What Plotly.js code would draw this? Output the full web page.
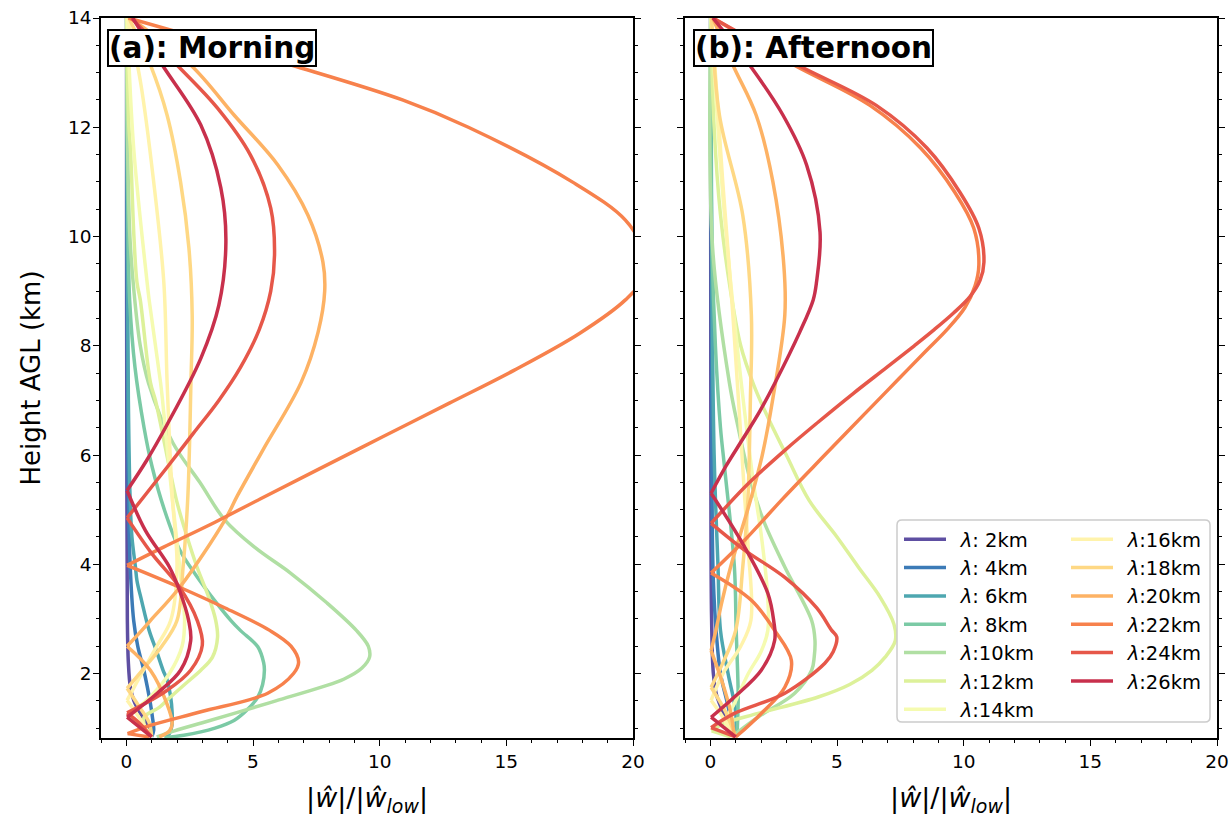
<!DOCTYPE html>
<html>
<head>
<meta charset="utf-8">
<script src="https://cdn.plot.ly/plotly-3.0.1.min.js"></script>
<style>
  html, body { margin: 0; padding: 0; background: #fff; }
  #chart { width: 1232px; height: 826px; }
</style>
</head>
<body>
<div id="chart"></div>
<script>
// Horizontal wavelengths (km) and their line colours (Spectral, reversed)
const wavelengths = [2, 4, 6, 8, 10, 12, 14, 16, 18, 20, 22, 24, 26];
const lineColors = ['#5e4fa2', '#3c7bb7', '#4ea7b0', '#7bcaa5', '#b0dfa3', '#ddf19a', '#f5fbb0',
                    '#fff3ab', '#fed884', '#fdb264', '#f7814c', '#e65749', '#c8304c'];
const legendLabels = ['λ: 2km', 'λ: 4km', 'λ: 6km', 'λ: 8km', 'λ:10km', 'λ:12km', 'λ:14km',
                      'λ:16km', 'λ:18km', 'λ:20km', 'λ:22km', 'λ:24km', 'λ:26km'];

// ---- Morning profiles: height AGL (km) and |w|/|w_low| ----
const mZ2  = [14, 10, 6, 3, 2.2, 1.75, 1.5, 1.27, 1.05, 0.84];
const mW2  = [0.01, 0.01, 0.02, 0.04, 0.08, 0.16, 0.3, 0.56, 0.85, 1.0];
const mZ4  = [14, 10, 6, 4, 2.97, 2.5, 2.06, 1.75, 1.45, 1.2, 0.96, 0.84];
const mW4  = [0.02, 0.03, 0.06, 0.15, 0.29, 0.45, 0.69, 0.83, 0.95, 1.03, 1.08, 1.0];
const mZ6  = [14, 10, 7, 5.2, 4.5, 3.95, 3.7, 3.34, 2.79, 2.4, 2.06, 1.88, 1.6, 1.27, 1.05, 0.9, 0.84];
const mW6  = [0.02, 0.04, 0.08, 0.15, 0.22, 0.36, 0.42, 0.6, 0.9, 1.2, 1.45, 1.61, 1.74, 1.81, 1.8, 1.7, 1.55];
const mZ8  = [14, 12, 10, 8.84, 7.61, 6.5, 5.78, 5, 4.26, 3.8, 3.34, 2.97, 2.79, 2.49, 2.2, 2.06, 1.8, 1.57, 1.35, 1.14, 1.0, 0.87, 0.83];
const mW8  = [0.01, 0.03, 0.07, 0.13, 0.34, 0.7, 1.02, 1.5, 2.11, 2.75, 3.48, 4.13, 4.5, 5.19, 5.42, 5.45, 5.38, 5.19, 4.8, 4.25, 3.5, 2.27, 1.5];
const mZ10 = [14, 12, 10, 9, 8, 7.31, 6.22, 5.5, 4.81, 4.3, 3.84, 3.3, 2.79, 2.5, 2.3, 2.1, 1.9, 1.75, 1.5, 1.27, 1.1, 0.95, 0.84];
const mW10 = [0.01, 0.04, 0.14, 0.3, 0.55, 0.88, 1.84, 2.9, 3.89, 5.1, 6.48, 7.9, 9.08, 9.55, 9.6, 9.3, 8.6, 7.7, 5.9, 4.26, 3.0, 1.9, 1.2];
const mZ12 = [14, 12, 11.62, 10, 9.16, 8.84, 7.33, 7.0, 6, 5.17, 4.5, 3.95, 3.4, 2.97, 2.66, 2.3, 2.06, 1.8, 1.51, 1.38, 1.2, 1.0, 0.84];
const mW12 = [0.01, 0.1, 0.16, 0.3, 0.42, 0.55, 0.95, 1.15, 1.6, 1.98, 2.4, 2.79, 3.25, 3.53, 3.6, 3.4, 2.94, 2.3, 1.6, 1.3, 0.7, 0.75, 1.0];
const mZ14 = [14, 11.62, 9.16, 8.84, 7.33, 7.0, 5.26, 4.2, 3.5, 2.97, 2.5, 2.0, 1.6, 1.35, 1.2, 1.0, 0.84];
const mW14 = [0.03, 0.29, 0.82, 0.9, 1.35, 1.43, 1.8, 2.05, 2.2, 2.3, 2.2, 1.7, 1.0, 0.4, 0.05, 0.6, 1.0];
const mZ16 = [14, 12.83, 11, 9.16, 7.33, 5.26, 3.95, 2.97, 2.5, 2.0, 1.51, 1.2, 0.84];
const mW16 = [0.05, 0.56, 1.08, 1.48, 1.61, 1.81, 2.0, 1.75, 1.2, 0.6, 0.03, 0.5, 1.0];
const mZ18 = [14, 13.14, 12.22, 11.0, 9.79, 8.56, 7.33, 5.26, 3.95, 2.97, 2.5, 2.1, 1.73, 1.4, 1.1, 0.84];
const mW18 = [0.1, 0.95, 1.61, 2.14, 2.47, 2.6, 2.55, 2.43, 2.24, 2.0, 1.4, 0.7, 0.03, 0.5, 0.9, 1.0];
const mZ20 = [14, 13.14, 12.22, 11.31, 10.39, 9.53, 9.0, 8.25, 7.33, 6.09, 5.26, 4.81, 3.58, 2.97, 2.79, 2.5, 2.06, 1.45, 1.09, 0.95, 0.84];
const mW20 = [0.15, 2.54, 4.26, 5.98, 7.17, 7.76, 7.83, 7.57, 6.9, 5.39, 4.39, 3.89, 2.11, 0.95, 0.61, 0.03, 0.95, 1.6, 1.81, 1.7, 1.3];
const mZ22 = [14, 13.14, 12.5, 12, 11, 10.3, 9.75, 9.3, 8.84, 8.23, 7.55, 6.95, 6.33, 5.72, 5.2, 4.77, 4.31, 3.98, 3.58, 3.2, 2.79, 2.5, 2.21, 2.0, 1.64, 1.3, 1.05, 0.9, 0.84];
const mW22 = [0.08, 6.5, 10.9, 13.5, 17.6, 19.7, 20.4, 20.5, 19.7, 17.9, 15.3, 12.75, 10.1, 7.5, 5.3, 3.5, 1.45, 0.03, 2.1, 3.9, 5.66, 6.5, 6.8, 6.6, 5.58, 2.94, 0.95, 0.05, 0.9];
const mZ24 = [14, 13.14, 12.35, 11.49, 10.52, 9.66, 9.0, 8.3, 7.6, 7.0, 6.4, 5.8, 5.3, 4.85, 4.2, 3.58, 2.97, 2.52, 2.06, 1.69, 1.28, 1.1, 0.84];
const mW24 = [0.2, 2.0, 3.6, 4.9, 5.7, 5.85, 5.7, 5.25, 4.5, 3.65, 2.65, 1.65, 0.8, 0.03, 1.0, 2.1, 2.8, 3.0, 2.54, 1.6, 0.03, 0.5, 1.0];
const mZ26 = [14, 13.14, 12.04, 10.89, 9.9, 8.74, 7.77, 6.55, 5.9, 5.35, 4.62, 3.95, 3.52, 2.97, 2.6, 2.06, 1.64, 1.2, 0.84];
const mW26 = [0.25, 1.42, 2.94, 3.73, 3.93, 3.65, 2.94, 1.6, 0.8, 0.03, 0.75, 1.7, 2.1, 2.46, 2.54, 2.14, 1.22, 0.03, 1.0];

// ---- Afternoon profiles ----
const aZ2  = [14, 6, 3, 2, 1.6, 1.3, 1.05, 0.84];
const aW2  = [0.01, 0.02, 0.05, 0.12, 0.25, 0.5, 0.8, 1.0];
const aZ4  = [14, 8, 4, 2.97, 2.0, 1.5, 1.0, 0.84];
const aW4  = [0.02, 0.05, 0.1, 0.2, 0.4, 0.65, 0.9, 1.0];
const aZ6  = [14, 10, 6, 4, 2.79, 2.0, 1.3, 0.84];
const aW6  = [0.02, 0.05, 0.15, 0.3, 0.4, 0.7, 1.0, 1.0];
const aZ8  = [14, 10, 8, 6.5, 5.78, 3.95, 2.79, 2.0, 1.5, 0.84];
const aW8  = [0.02, 0.06, 0.2, 0.4, 0.56, 0.95, 1.02, 1.08, 1.1, 1.05];
const aZ10 = [14, 9.79, 7.33, 6.5, 5.5, 4.8, 3.95, 2.97, 2.61, 2.3, 2.06, 1.64, 1.2, 0.87, 0.84];
const aW10 = [0.01, 0.09, 0.75, 1.1, 1.6, 2.1, 2.94, 4.0, 4.13, 4.1, 4.0, 3.33, 1.88, 0.95, 0.9];
const aZ12 = [14, 12, 10.4, 9, 8, 7.3, 6.69, 6, 5.17, 4.5, 3.95, 3.4, 2.9, 2.6, 2.3, 2.06, 1.8, 1.57, 1.27, 1.09, 0.95, 0.84];
const aW12 = [0.02, 0.15, 0.4, 0.8, 1.2, 1.7, 2.27, 3.0, 3.9, 5.0, 5.84, 6.7, 7.25, 7.3, 6.9, 6.38, 5.5, 4.26, 1.88, 0.56, 0.05, 0.8];
const aZ14 = [14, 11, 8.7, 7, 5.5, 4.57, 3.5, 2.79, 2.4, 2.0, 1.45, 1.1, 0.84];
const aW14 = [0.03, 0.45, 0.9, 1.3, 1.7, 2.0, 2.25, 2.27, 2.0, 1.5, 0.95, 0.6, 1.0];
const aZ16 = [14, 11, 8.56, 6.73, 5.26, 4.26, 2.97, 2.5, 2.0, 1.51, 1.2, 0.84];
const aW16 = [0.05, 0.49, 0.89, 1.15, 1.35, 1.5, 1.6, 1.2, 0.5, 0.03, 0.5, 1.0];
const aZ18 = [14, 12.22, 10.39, 8.56, 7.0, 5.17, 3.95, 2.79, 2.2, 1.75, 1.3, 0.84];
const aW18 = [0.05, 0.36, 1.28, 1.62, 1.58, 1.48, 1.28, 1.0, 0.5, 0.03, 0.6, 1.0];
const aZ20 = [14, 13.14, 12.22, 11.0, 9.48, 8.56, 7.04, 6.0, 5.2, 4.5, 3.95, 3.3, 2.79, 2.42, 1.8, 1.3, 0.84];
const aW20 = [0.1, 0.89, 1.81, 2.47, 2.9, 2.94, 2.47, 2.05, 1.6, 1.15, 0.8, 0.45, 0.22, 0.03, 0.5, 0.8, 0.95];
const aZ22 = [14, 13.14, 12.4, 11.62, 10.81, 10.15, 9.48, 9.1, 8.7, 8.3, 7.9, 7.4, 6.9, 6.4, 5.8, 5.17, 4.44, 3.84, 3.34, 2.79, 2.24, 1.75, 1.27, 0.87, 0.84];
const aW22 = [0.1, 3.3, 6.3, 8.3, 9.65, 10.4, 10.6, 10.45, 10.05, 9.35, 8.5, 7.45, 6.4, 5.35, 4.1, 2.8, 1.35, 0.03, 1.62, 2.54, 3.2, 2.94, 2.01, 1.08, 1.0];
const aZ24 = [14, 13.14, 12.4, 11.62, 10.81, 10.15, 9.53, 9.2, 8.9, 8.6, 8.3, 8.0, 7.6, 7.13, 6.6, 6.09, 5.5, 4.99, 4.75, 4.26, 3.76, 3.2, 2.79, 2.67, 2.4, 2.19, 1.64, 1.27, 1.01, 0.84];
const aW24 = [0.1, 3.45, 6.55, 8.55, 9.85, 10.6, 10.8, 10.65, 10.25, 9.6, 8.85, 8.05, 6.95, 5.65, 4.25, 2.95, 1.55, 0.5, 0.03, 1.35, 2.94, 4.2, 4.79, 4.99, 4.85, 4.52, 2.94, 0.95, 0.03, 1.0];
const aZ26 = [14, 13.14, 12.22, 11.31, 10.08, 9.16, 8.84, 8.25, 7.31, 6.8, 6.27, 5.8, 5.3, 4.32, 3.47, 2.97, 2.61, 2.06, 1.57, 1.2, 0.84];
const aW26 = [0.1, 1.55, 2.87, 3.8, 4.33, 4.19, 4.06, 3.53, 2.54, 1.95, 1.25, 0.62, 0.03, 1.35, 2.27, 2.5, 2.54, 2.01, 0.95, 0.03, 1.0];

const morningZ = [mZ2, mZ4, mZ6, mZ8, mZ10, mZ12, mZ14, mZ16, mZ18, mZ20, mZ22, mZ24, mZ26];
const morningW = [mW2, mW4, mW6, mW8, mW10, mW12, mW14, mW16, mW18, mW20, mW22, mW24, mW26];
const afternoonZ = [aZ2, aZ4, aZ6, aZ8, aZ10, aZ12, aZ14, aZ16, aZ18, aZ20, aZ22, aZ24, aZ26];
const afternoonW = [aW2, aW4, aW6, aW8, aW10, aW12, aW14, aW16, aW18, aW20, aW22, aW24, aW26];

const yTicks = [2, 4, 6, 8, 10, 12, 14];
const xTicks = [0, 5, 10, 15, 20];

const FONT = 'DejaVu Sans, sans-serif';
const W = 1232, H = 826;

// |w| profiles have sharp minima where w changes sign: split each profile
// at those minima so every arc between them is drawn as a smooth spline.
function arcs(z, w) {
  const cuts = [0];
  for (let k = 1; k < w.length - 1; k++) {
    if (w[k] <= 0.06 && w[k] < w[k - 1] && w[k] < w[k + 1]) cuts.push(k);
  }
  cuts.push(w.length - 1);
  const out = [];
  for (let s = 0; s < cuts.length - 1; s++) {
    out.push({ z: z.slice(cuts[s], cuts[s + 1] + 1), w: w.slice(cuts[s], cuts[s + 1] + 1) });
  }
  return out;
}

const traces = [];
function addProfile(z, w, i, xa, ya, withLegend) {
  arcs(z, w).forEach((seg, s) => {
    const t = {
      type: 'scatter', mode: 'lines', x: seg.w, y: seg.z,
      xaxis: xa, yaxis: ya,
      // en space keeps the label clear of the line sample
      name: '\u2002' + legendLabels[i].replace('λ', '<i>λ</i>'),
      legendgroup: 'lam' + wavelengths[i],
      showlegend: withLegend && s === 0,
      line: { color: lineColors[i], width: 3.5, shape: 'spline', smoothing: 1 },
      hoverinfo: 'x+y'
    };
    if (withLegend) t.legend = i < 7 ? 'legend' : 'legend2';
    traces.push(t);
  });
}
wavelengths.forEach((lam, i) => addProfile(morningZ[i], morningW[i], i, 'x', 'y', false));
wavelengths.forEach((lam, i) => addProfile(afternoonZ[i], afternoonW[i], i, 'x2', 'y2', true));

// plot areas in pixels
const panelA = [101, 633], panelB = [685, 1217];
const plotTop = 18, plotBottom = 738;

function xAxis(domainPx, anchor) {
  return {
    domain: [domainPx[0] / W, domainPx[1] / W], anchor: anchor,
    range: [-1, 20], tickvals: xTicks, ticks: 'outside', ticklen: 6, tickwidth: 1.4,
    tickcolor: '#000', showline: true, linecolor: '#000', linewidth: 1.6, mirror: true,
    showgrid: false, zeroline: false,
    minor: { dtick: 1, tick0: 0, ticks: 'outside', ticklen: 3.5, tickwidth: 1.1, tickcolor: '#000', showgrid: false },
    tickfont: { family: FONT, size: 18.5, color: '#000' },
    title: { text: '|<i>ŵ</i>|/|<i>ŵ</i><sub><i>low</i></sub>|', font: { family: FONT, size: 27, color: '#000' }, standoff: 17 },
    fixedrange: true
  };
}
function yAxis(anchor, labels) {
  return {
    domain: [1 - plotBottom / H, 1 - plotTop / H], anchor: anchor,
    range: [0.82, 14], tickvals: yTicks, ticks: 'outside', ticklen: 6, tickwidth: 1.4,
    tickcolor: '#000', showline: true, linecolor: '#000', linewidth: 1.6, mirror: 'ticks',
    showgrid: false, zeroline: false, showticklabels: labels, ticklabelstandoff: -2,
    minor: { dtick: 0.5, tick0: 0, ticks: 'outside', ticklen: 3.5, tickwidth: 1.1, tickcolor: '#000', showgrid: false },
    tickfont: { family: FONT, size: 18.5, color: '#000' },
    title: labels ? { text: 'Height AGL (km)', font: { family: FONT, size: 26, color: '#000' }, standoff: 20 } : { text: '' },
    fixedrange: true
  };
}

// legend frame (two columns share one box)
const box = { x0: 897, x1: 1210, y0: 520, y1: 722, r: 5 };
function px(x) { return x / W; }
function py(y) { return 1 - y / H; }
const framePath = [
  'M', px(box.x0 + box.r), py(box.y0),
  'L', px(box.x1 - box.r), py(box.y0),
  'Q', px(box.x1), py(box.y0), px(box.x1), py(box.y0 + box.r),
  'L', px(box.x1), py(box.y1 - box.r),
  'Q', px(box.x1), py(box.y1), px(box.x1 - box.r), py(box.y1),
  'L', px(box.x0 + box.r), py(box.y1),
  'Q', px(box.x0), py(box.y1), px(box.x0), py(box.y1 - box.r),
  'L', px(box.x0), py(box.y0 + box.r),
  'Q', px(box.x0), py(box.y0), px(box.x0 + box.r), py(box.y0), 'Z'
].join(' ');

const legendCommon = {
  bgcolor: 'rgba(0,0,0,0)', borderwidth: 0, orientation: 'v',
  font: { family: FONT, size: 19.5, color: '#000' },
  xanchor: 'left', yanchor: 'top', traceorder: 'normal', tracegroupgap: 0,
  itemwidth: 42, itemclick: false, itemdoubleclick: false
};

const layout = {
  width: W, height: H,
  margin: { l: 0, r: 0, t: 0, b: 0 },
  paper_bgcolor: '#fff', plot_bgcolor: '#fff',
  font: { family: FONT, color: '#000' },
  xaxis: xAxis(panelA, 'y'),
  yaxis: yAxis('x', true),
  xaxis2: xAxis(panelB, 'y2'),
  yaxis2: Object.assign(yAxis('x2', false), { matches: 'y' }),
  legend: Object.assign({}, legendCommon, { x: px(899), y: py(520) }),
  legend2: Object.assign({}, legendCommon, { x: px(1066), y: py(520) }),
  shapes: [{
    type: 'path', xref: 'paper', yref: 'paper', path: framePath,
    fillcolor: 'rgba(255,255,255,0.85)', line: { color: '#cccccc', width: 1.5 }, layer: 'above'
  }],
  annotations: [
    { xref: 'x domain', yref: 'y domain', x: 0.011, y: 0.985, xanchor: 'left', yanchor: 'top',
      text: '<b>(a): Morning</b>', showarrow: false, font: { family: FONT, size: 29.5, color: '#000' },
      bgcolor: '#fff', bordercolor: '#000', borderwidth: 2, borderpad: 0 },
    { xref: 'x2 domain', yref: 'y2 domain', x: 0.015, y: 0.985, xanchor: 'left', yanchor: 'top',
      text: '<b>(b): Afternoon</b>', showarrow: false, font: { family: FONT, size: 29.5, color: '#000' },
      bgcolor: '#fff', bordercolor: '#000', borderwidth: 2, borderpad: 0 }
  ],
  showlegend: true
};

Plotly.newPlot('chart', traces, layout, { displayModeBar: false });
</script>
</body>
</html>
